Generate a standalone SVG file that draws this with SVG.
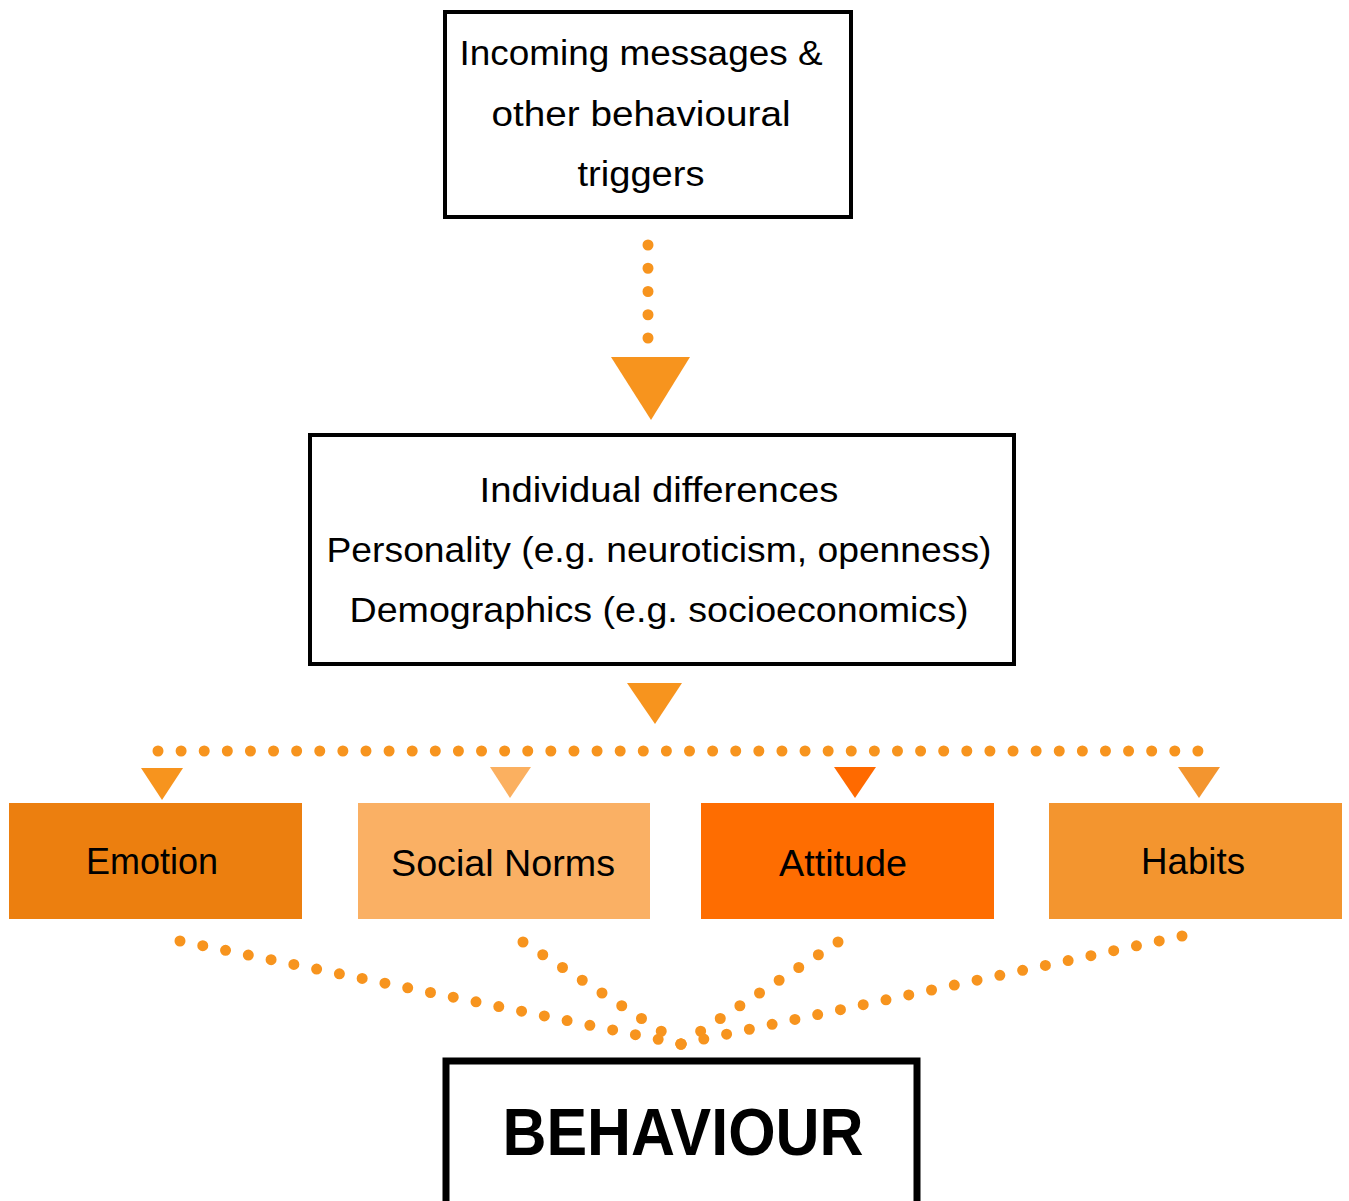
<svg xmlns="http://www.w3.org/2000/svg" width="1349" height="1201" viewBox="0 0 1349 1201">
<style>
.box{fill:#fff;stroke:#000;stroke-width:4}
.t{font-family:"Liberation Sans",Arial,sans-serif;font-size:35px;fill:#000;text-anchor:middle}
.f{font-family:"Liberation Sans",Arial,sans-serif;font-size:36px;fill:#000;text-anchor:middle}
.dot{fill:none;stroke:#F7941E;stroke-width:11;stroke-linecap:round;stroke-dasharray:0 0.9999}
</style>
<rect width="1349" height="1201" fill="#fff"/>
<g id="connectors">
<line class="dot" x1="648" y1="245" x2="648" y2="338" pathLength="4"/>
<polygon points="611,357 690,357 651,420" fill="#F7941E"/>
<polygon points="627,683 682,683 655,724" fill="#F7941E"/>
<line class="dot" x1="158" y1="751" x2="1198" y2="751" pathLength="45"/>
<polygon points="141,768 183,768 162,800" fill="#F7941E"/>
<polygon points="490,767 531,767 510,798" fill="#FBB060"/>
<polygon points="834,767 876,767 855,798" fill="#FF6A00"/>
<polygon points="1178,767 1220,767 1199,798" fill="#F3952F"/>
<line class="dot" x1="180" y1="941" x2="681" y2="1044" pathLength="22"/>
<line class="dot" x1="523" y1="942" x2="681" y2="1044" pathLength="8"/>
<line class="dot" x1="838" y1="942" x2="681" y2="1044" pathLength="8"/>
<line class="dot" x1="1182" y1="936" x2="681" y2="1044" pathLength="22"/>
</g>
<g id="triggers">
<rect class="box" x="445" y="12" width="406" height="205"/>
<text class="t" x="641" y="65" textLength="363" lengthAdjust="spacingAndGlyphs">Incoming messages &amp;</text>
<text class="t" x="641" y="126" textLength="299" lengthAdjust="spacingAndGlyphs">other behavioural</text>
<text class="t" x="641" y="186" textLength="127" lengthAdjust="spacingAndGlyphs">triggers</text>
</g>
<g id="individual">
<rect class="box" x="310" y="435" width="704" height="229"/>
<text class="t" x="659" y="502" textLength="359" lengthAdjust="spacingAndGlyphs">Individual differences</text>
<text class="t" x="659" y="562" textLength="665" lengthAdjust="spacingAndGlyphs">Personality (e.g. neuroticism, openness)</text>
<text class="t" x="659" y="622" textLength="619" lengthAdjust="spacingAndGlyphs">Demographics (e.g. socioeconomics)</text>
</g>
<g id="emotion">
<rect x="9" y="803" width="293" height="116" fill="#EC7F0F"/>
<text class="f" x="152" y="874" textLength="132" lengthAdjust="spacingAndGlyphs">Emotion</text>
</g>
<g id="social-norms">
<rect x="358" y="803" width="292" height="116" fill="#FAB064"/>
<text class="f" x="503" y="876" textLength="224" lengthAdjust="spacingAndGlyphs">Social Norms</text>
</g>
<g id="attitude">
<rect x="701" y="803" width="293" height="116" fill="#FE6D01"/>
<text class="f" x="843" y="876" textLength="128" lengthAdjust="spacingAndGlyphs">Attitude</text>
</g>
<g id="habits">
<rect x="1049" y="803" width="293" height="116" fill="#F3952F"/>
<text class="f" x="1193" y="874" textLength="104" lengthAdjust="spacingAndGlyphs">Habits</text>
</g>
<g id="behaviour">
<rect x="446" y="1061" width="471" height="150" fill="#fff" stroke="#000" stroke-width="7"/>
<text x="683" y="1155" font-family="Liberation Sans, Arial, sans-serif" font-size="66" font-weight="bold" text-anchor="middle" textLength="361" lengthAdjust="spacingAndGlyphs">BEHAVIOUR</text>
</g>
</svg>
